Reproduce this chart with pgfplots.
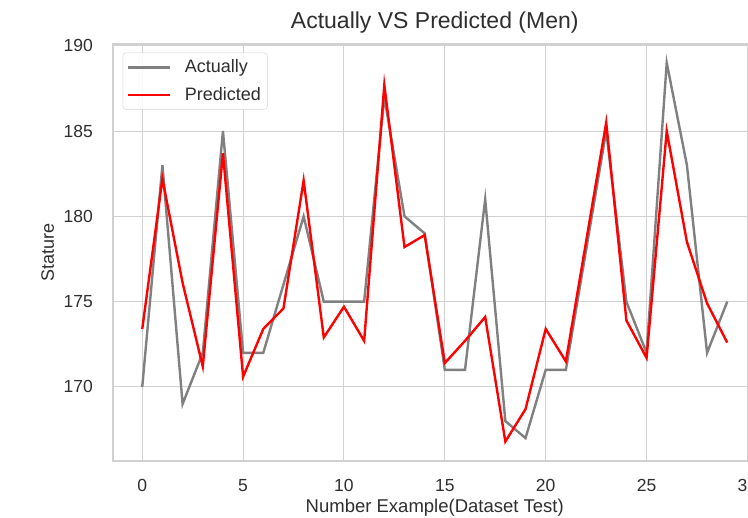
\documentclass[border=0pt]{standalone}
\usepackage{pgfplots}
\pgfplotsset{compat=1.18}
\usepackage{fontspec}
\setmainfont{Liberation Sans}
\definecolor{txt}{gray}{0.18}
\definecolor{gridc}{gray}{0.82}
\definecolor{actc}{gray}{0.5}
\begin{document}
\begin{tikzpicture}[x=1pt,y=1pt]
\useasboundingbox (0,0) rectangle (748,518);
\clip (0,0) rectangle (748,518);
\begin{axis}[
  scale only axis,
  width=643.5pt, height=417pt,
  at={(113pt,57pt)}, anchor=south west,
  xmin=-1.45, xmax=30.45,
  ymin=165.66, ymax=190.1,
  xtick={0,5,10,15,20,25,30},
  ytick={170,175,180,185,190},
  major tick length=0pt,
  grid=major,
  major grid style={gridc, line width=1pt},
  axis line style={gridc, line width=1.2pt},
  /pgf/number format/assume math mode=true,
  tick label style={font=\fontsize{17.5}{20}\selectfont, text=txt},
  xticklabel style={anchor=base, yshift=-31pt, inner sep=0pt},
  yticklabel style={anchor=east, xshift=-20pt, inner sep=0pt},
  title={Actually VS Predicted (Men)},
  title style={at={([yshift=9pt]axis description cs:0.5,1)}, anchor=base, font=\fontsize{23}{26}\selectfont, text=txt, inner sep=0pt},
  xlabel={Number Example(Dataset Test)},
  xlabel style={at={([yshift=-52pt]axis description cs:0.5,0)}, anchor=base, font=\fontsize{18.5}{21}\selectfont, text=txt, inner sep=0pt},
  ylabel={Stature},
  ylabel style={at={([xshift=-59pt]axis description cs:0,0.5)}, anchor=base, font=\fontsize{18}{21}\selectfont, text=txt, inner sep=0pt},
  legend cell align=left,
  legend image code/.code={\draw[#1] (0pt,0pt) -- (42pt,0pt);},
  legend style={at={([xshift=9.7pt,yshift=-8.7pt]axis description cs:0,1)}, anchor=north west,
    draw=gridc, rounded corners=3pt, fill=white, fill opacity=0.85, text opacity=1,
    font=\fontsize{18}{20}\selectfont, text=txt,
    inner xsep=4pt, inner ysep=4.5pt, row sep=7pt, column sep=11pt,
    nodes={inner sep=2.5pt, text depth=0.22em}},
]
\addplot[actc, line width=2.4pt] coordinates {
(0,170) (1,183) (2,169) (3,172) (4,185) (5,172) (6,172) (7,176) (8,180) (9,175)
(10,175) (11,175) (12,187) (13,180) (14,179) (15,171) (16,171) (17,181) (18,168) (19,167)
(20,171) (21,171) (22,178) (23,185) (24,175) (25,172) (26,189) (27,183) (28,172) (29,175)
};
\addlegendentry{Actually}
\addplot[red, line width=2.4pt] coordinates {
(0,173.4) (1,182.2) (2,176.1) (3,171.2) (4,183.7) (5,170.6) (6,173.4) (7,174.6) (8,182.1) (9,172.9)
(10,174.7) (11,172.7) (12,187.7) (13,178.2) (14,178.9) (15,171.4) (16,172.7) (17,174.1) (18,166.8) (19,168.7)
(20,173.4) (21,171.5) (22,178.5) (23,185.5) (24,173.9) (25,171.7) (26,185.0) (27,178.5) (28,174.9) (29,172.6)
};
\addlegendentry{Predicted}
\end{axis}
\end{tikzpicture}
\end{document}
